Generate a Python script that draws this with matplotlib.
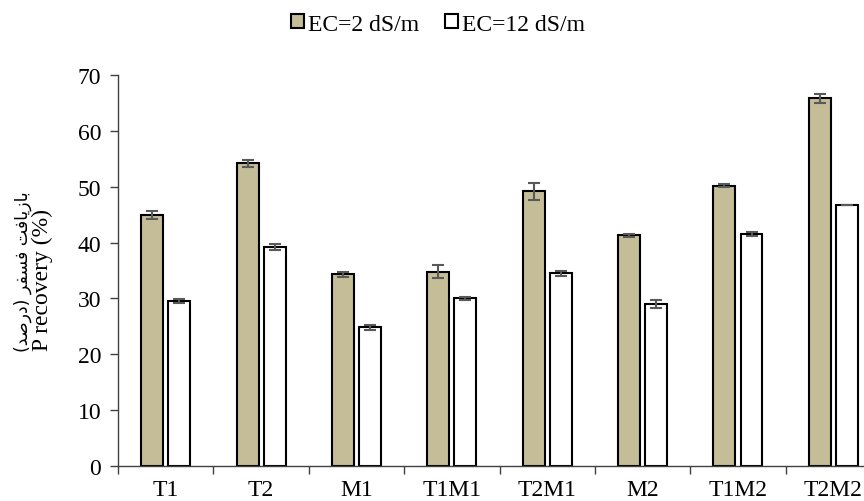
import matplotlib.pyplot as plt
import numpy as np

# ---------- data ----------
treatments = ['T1', 'T2', 'M1', 'T1M1', 'T2M1', 'M2', 'T1M2', 'T2M2']
ec2 = [45.0, 54.2, 34.3, 34.8, 49.2, 41.3, 50.2, 65.8]
ec2_err = [0.7, 0.6, 0.4, 1.2, 1.5, 0.3, 0.3, 0.8]
ec12 = [29.5, 39.2, 24.8, 30.0, 34.5, 29.0, 41.5, 46.7]
ec12_err = [0.4, 0.5, 0.5, 0.2, 0.4, 0.7, 0.3, 0.05]
series_names = ['EC=2 dS/m', 'EC=12 dS/m']
y_title = 'P recovery (%)'

# Persian label, pre-shaped with presentation forms (visual order)
fa_label = ('(\uFEAA\uFEBB\uFEAD\uFEA9) '
            '\uFEAE\uFED4\uFEB4\uFED3 '
            '\uFE96\uFED3\uFE8E\uFEF3\uFEAF\uFE8E\uFE91')

plt.rcParams['font.family'] = ['Liberation Serif', 'DejaVu Sans']
plt.rcParams['font.size'] = 17

# ---------- plot ----------
fig = plt.figure(figsize=(8.64, 5.02), dpi=100)
ax = fig.add_axes([0.1366, 0.0697, 0.8831, 0.779])

x = np.arange(len(treatments)) + 0.5
w = 0.23
err_kw = dict(ecolor='#595959', capsize=4, elinewidth=1.5, capthick=1.5)
ax.bar(x - 0.142, ec2, w, yerr=ec2_err, color='#C4BD97', edgecolor='black',
       linewidth=1.5, label=series_names[0], error_kw=err_kw, zorder=2)
ax.bar(x + 0.142, ec12, w, yerr=ec12_err, color='white', edgecolor='black',
       linewidth=1.5, label=series_names[1], error_kw=err_kw, zorder=2)

ax.set_xlim(0, len(treatments))
ax.set_ylim(0, 70)
ax.set_yticks(np.arange(0, 71, 10))
ax.set_xticks(np.arange(0, len(treatments) + 1))
ax.set_xticklabels([])
ax.set_xticks(x, minor=True)
ax.set_xticklabels(treatments, minor=True)
ax.tick_params(axis='x', which='minor', length=0, pad=9)
ax.tick_params(axis='y', pad=6)
ax.tick_params(axis='both', which='major', direction='out', length=6,
               width=1, color='#404040')

for s in ['top', 'right']:
    ax.spines[s].set_visible(False)
for s in ['left', 'bottom']:
    ax.spines[s].set_color('#404040')
    ax.spines[s].set_linewidth(1)

# two-line y title: Persian line (outer) and English line (inner)
fig.text(23 / 864, 1 - 272 / 502, fa_label, rotation=90, ha='center',
         va='center', family=['DejaVu Sans'], fontsize=12.5)
fig.text(42 / 864, 1 - 280 / 502, y_title, rotation=90, ha='center',
         va='center', fontsize=17)

fig.legend(loc='center', bbox_to_anchor=(0.507, 0.95), ncol=2,
           frameon=False, fontsize=17, handlelength=0.55, handleheight=0.55,
           handletextpad=0.15, columnspacing=1.1)

fig.savefig('out.png', dpi=100)
